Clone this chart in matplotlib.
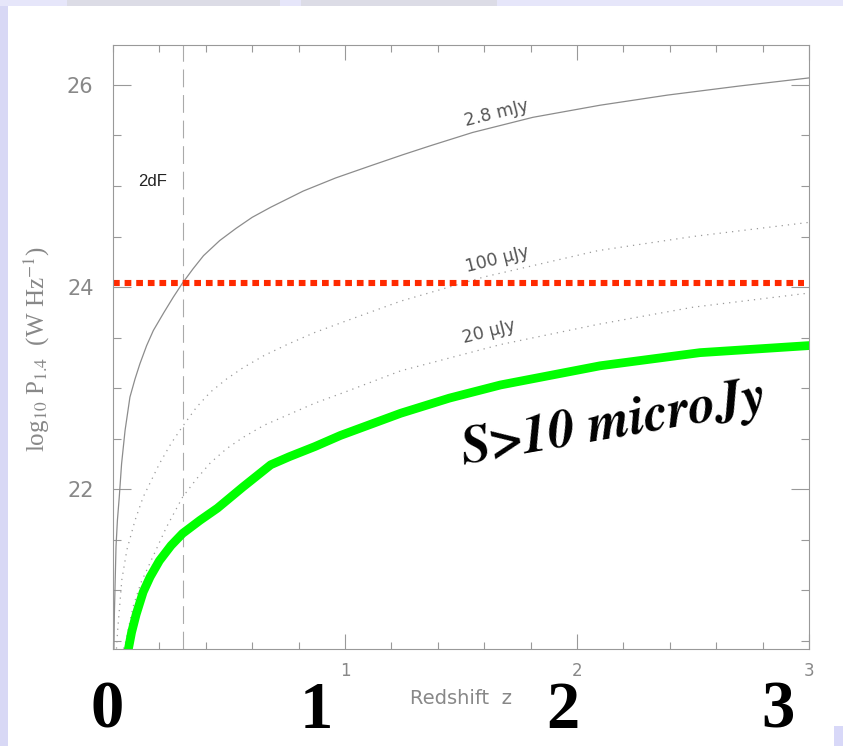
import matplotlib
matplotlib.use("Agg")
import matplotlib.pyplot as plt
from matplotlib.patches import Rectangle

# luminosity limit curves (redshift z, log10 P_1.4)
z_28mjy = [0.004, 0.006, 0.013, 0.019, 0.027, 0.037, 0.052, 0.073, 0.095, 0.116, 0.145, 0.174,
           0.22, 0.26, 0.30, 0.345, 0.39, 0.46, 0.53, 0.6, 0.68, 0.82, 0.96, 1.11, 1.25, 1.37,
           1.55, 1.81, 2.1, 2.39, 2.7, 3.0]
p_28mjy = [20.42, 20.77, 21.43, 21.69, 21.92, 22.25, 22.58, 22.91, 23.09, 23.24, 23.42, 23.57,
           23.75, 23.9, 24.04, 24.18, 24.31, 24.46, 24.58, 24.69, 24.79, 24.95, 25.08, 25.2, 25.31,
           25.4, 25.53, 25.68, 25.80, 25.90, 25.99, 26.07]

z_100ujy = [0.015, 0.02, 0.038, 0.06, 0.095, 0.13, 0.20, 0.25, 0.30, 0.36, 0.42, 0.49, 0.56,
            0.65, 0.75, 0.87, 1.0, 1.24, 1.6, 2.09, 2.5, 3.0]
p_100ujy = [20.42, 20.6, 21.1, 21.4, 21.69, 21.92, 22.25, 22.45, 22.62, 22.81, 22.96, 23.09, 23.2,
            23.32, 23.43, 23.55, 23.66, 23.86, 24.1, 24.36, 24.5, 24.64]

z_20ujy = [0.045, 0.05, 0.086, 0.12, 0.16, 0.23, 0.30, 0.36, 0.42, 0.49, 0.56, 0.65, 0.76,
           0.87, 1.0, 1.24, 1.67, 2.09, 2.5, 3.0]
p_20ujy = [20.42, 20.44, 20.83, 21.07, 21.27, 21.62, 21.92, 22.1, 22.26, 22.4, 22.51, 22.63, 22.74,
           22.85, 22.96, 23.17, 23.43, 23.63, 23.8, 23.94]

z_10ujy = [0.065, 0.08, 0.10, 0.13, 0.16, 0.2, 0.25, 0.3, 0.375, 0.45, 0.56, 0.68, 0.76, 0.87,
           0.98, 1.24, 1.45, 1.67, 2.1, 2.53, 3.0]
p_10ujy = [20.40, 20.58, 20.76, 20.98, 21.13, 21.29, 21.44, 21.56, 21.69, 21.81, 22.02, 22.24,
           22.32, 22.42, 22.53, 22.75, 22.90, 23.03, 23.22, 23.35, 23.42]

z_2df = 0.30
p_cut = 24.04

curve_labels = ["2.8 mJy", "100 \u03bcJy", "20 \u03bcJy"]
label_pos = [(1.655, 25.72), (1.655, 24.27), (1.62, 23.56)]
big_ticks = ["0", "1", "2", "3"]
big_tick_x = [107, 316, 563, 778]

W, H = 843, 746
fig = plt.figure(figsize=(W / 100, H / 100), dpi=100)
fig.patch.set_facecolor("white")

# slide background bits round the white box
fig.add_artist(Rectangle((0, 0), 8 / W, 1, transform=fig.transFigure,
                         color="#d8d8f5", lw=0, zorder=0))
fig.add_artist(Rectangle((0, 1 - 6 / H), 1, 6 / H, transform=fig.transFigure,
                         color="#e6e6fa", lw=0, zorder=0))
fig.add_artist(Rectangle((67 / W, 1 - 6 / H), 213 / W, 6 / H, transform=fig.transFigure,
                         color="#dcdce6", lw=0, zorder=0))
fig.add_artist(Rectangle((301 / W, 1 - 6 / H), 196 / W, 6 / H, transform=fig.transFigure,
                         color="#dcdce6", lw=0, zorder=0))
fig.add_artist(Rectangle((834 / W, 0), 9 / W, 20 / H, transform=fig.transFigure,
                         color="#d8d8f8", lw=0, zorder=0))

ax = fig.add_axes([113 / W, 1 - 649 / H, 696 / W, 604 / H])
ax.set_xlim(0, 3)
ax.set_ylim(20.416, 26.396)

grey = "#8c8c8c"
ax.plot(z_28mjy, p_28mjy, color=grey, lw=0.9)
ax.plot(z_100ujy, p_100ujy, color="#9a9a9a", lw=0.9, ls=(0, (1, 4)))
ax.plot(z_20ujy, p_20ujy, color="#9a9a9a", lw=0.9, ls=(0, (1, 4)))
ax.axvline(z_2df, color="#aaaaaa", lw=0.8, ls=(0, (16, 7)))
ax.plot([0, 2.98], [p_cut, p_cut], color="#ff2a00", lw=4.4, ls=(0, (1.1, 0.8)),
        solid_capstyle="butt", dash_capstyle="butt")
ax.plot(z_10ujy, p_10ujy, color="#00ff00", lw=6.3, solid_capstyle="round",
        solid_joinstyle="round")

for txt, (x, y) in zip(curve_labels, label_pos):
    ax.text(x, y, txt, rotation=14, ha="center", va="center", fontsize=12.5,
            color="#555555", rotation_mode="anchor")
ax.text(0.17, 25.04, "2dF", ha="center", va="center", fontsize=12,
        color="#222222", family="Liberation Sans")

ax.set_xticks([1, 2, 3])
ax.set_xticks([i * 0.2 for i in range(16)], minor=True)
ax.set_yticks([22, 24, 26])
ax.set_yticks([20.5 + i * 0.5 for i in range(12)], minor=True)
ax.tick_params(which="both", direction="in", top=True, right=True,
               color="#999999", width=0.8, labelcolor="#888888")
ax.tick_params(axis="x", which="major", length=11, pad=9, labelsize=12)
ax.tick_params(axis="x", which="minor", length=5)
ax.tick_params(axis="y", which="major", length=13, pad=14, labelsize=15)
ax.tick_params(axis="y", which="minor", length=6)
for lab in ax.get_xticklabels() + ax.get_yticklabels():
    lab.set_family("DejaVu Sans")
for sp in ax.spines.values():
    sp.set_color("#999999")
    sp.set_linewidth(0.8)

plt.rcParams["mathtext.fontset"] = "stix"
fig.text(461 / W, 1 - 698 / H, "Redshift  z", ha="center", va="center",
         fontsize=14, color="#888888", family="DejaVu Sans")
fig.text(37 / W, 1 - 349 / H, r"log$_{10}$ P$_{1.4}$  (W Hz$^{-1}$)", rotation=90,
         ha="center", va="center", fontsize=18, color="#888888", family="Liberation Serif")

fig.text(614 / W, 1 - 424 / H, "S>10 microJy", rotation=10, ha="center", va="center",
         fontsize=39, fontweight="bold", fontstyle="italic", family="STIXGeneral",
         color="black", rotation_mode="anchor")

for t, x in zip(big_ticks, big_tick_x):
    fig.text(x / W, 1 - 728 / H, t, ha="center", va="baseline", fontsize=48,
             fontweight="bold", family="Liberation Serif", color="black")

fig.savefig("out.png", dpi=100, facecolor=fig.get_facecolor())
